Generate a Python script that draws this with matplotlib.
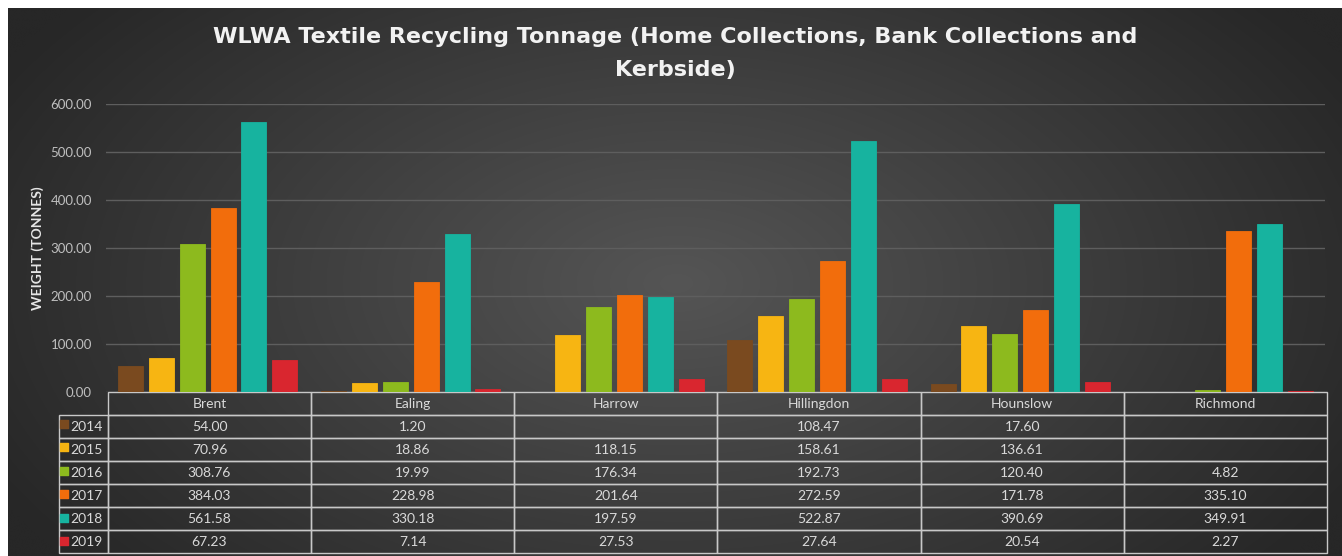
import numpy as np
import matplotlib
matplotlib.use("Agg")
import matplotlib.pyplot as plt

boroughs = ["Brent", "Ealing", "Harrow", "Hillingdon", "Hounslow", "Richmond"]
years = ["2014", "2015", "2016", "2017", "2018", "2019"]
v2014 = [54.00, 1.20, None, 108.47, 17.60, None]
v2015 = [70.96, 18.86, 118.15, 158.61, 136.61, None]
v2016 = [308.76, 19.99, 176.34, 192.73, 120.40, 4.82]
v2017 = [384.03, 228.98, 201.64, 272.59, 171.78, 335.10]
v2018 = [561.58, 330.18, 197.59, 522.87, 390.69, 349.91]
v2019 = [67.23, 7.14, 27.53, 27.64, 20.54, 2.27]
series = [v2014, v2015, v2016, v2017, v2018, v2019]
colors = ["#7a4a1f", "#f7b512", "#8dba1e", "#f26d0c", "#17b39f", "#d9262f"]
yticks = [0, 100, 200, 300, 400, 500, 600]

plt.rcParams['font.family'] = ['Lato', 'DejaVu Sans']

W, H = 1342, 556
fig = plt.figure(figsize=(W / 100, H / 100), dpi=100)
fig.patch.set_facecolor("white")

# background with radial gradient
bg = fig.add_axes([8 / W, 0, 1 - 8 / W, 1 - 8 / H])
bg.set_axis_off()
yy, xx = np.mgrid[0:200, 0:400]
cx, cy = 200, 100
r = np.sqrt(((xx - cx) / 230.0) ** 2 + ((yy - cy) / 160.0) ** 2)
r = np.clip(r, 0, 1)
c0 = np.array([0x55, 0x55, 0x55]) / 255
c1 = np.array([0x27, 0x27, 0x27]) / 255
img = c0[None, None, :] * (1 - r[..., None]) + c1[None, None, :] * r[..., None]
bg.imshow(img, aspect="auto", extent=[0, 1, 0, 1], interpolation="bicubic")
bg.set_xlim(0, 1)
bg.set_ylim(0, 1)

x0, x1 = 106, 1325
ytop, ybot = 104, 392
ax = fig.add_axes([x0 / W, (H - ybot) / H, (x1 - x0) / W, (ybot - ytop) / H])
ax.set_facecolor("none")
ax.set_xlim(-0.5, len(boroughs) - 0.5)
ax.set_ylim(0, 600)

n = len(series)
step = 0.152
bw = 0.123
xs = np.arange(len(boroughs))
for i, (vals, col) in enumerate(zip(series, colors)):
    hv = [v if v is not None else 0 for v in vals]
    ax.bar(xs + (i - (n - 1) / 2) * step, hv, width=bw, color=col,
           edgecolor=col, linewidth=0.6, zorder=3)

ax.set_yticks(yticks)
ax.set_yticklabels([f"{t:.2f}" for t in yticks], color="#bfbfbf", fontsize=9.5)
ax.tick_params(axis="y", length=0, pad=10)
ax.set_xticks([])
ax.grid(axis="y", color="#5e5e5e", linewidth=1.0, zorder=0)
for s in ax.spines.values():
    s.set_visible(False)
ax.set_ylabel("WEIGHT (TONNES)", color="#e6e6e6", fontsize=10,
              fontweight="bold", labelpad=5)

fig.text(675 / W, 1 - 53.5 / H,
         "WLWA Textile Recycling Tonnage (Home Collections, Bank Collections and\nKerbside)",
         ha="center", va="center", color="#f2f2f2", fontsize=16,
         fontweight="bold", linespacing=1.8, family=["DejaVu Sans"])

# data table
cell_text = [["" if v is None else f"{v:.2f}" for v in vals] for vals in series]
lab_w = (106 - 57)
col_w = (x1 - x0) / len(boroughs)
tot_w = lab_w + col_w * len(boroughs)
tbl = ax.table(cellText=cell_text, rowLabels=years, colLabels=boroughs,
               cellLoc="center", rowLoc="right", colLoc="center",
               colWidths=[col_w / tot_w] * len(boroughs),
               bbox=[0, -(553 - ybot) / (ybot - ytop),
                     1, (553 - ybot) / (ybot - ytop)])
tbl._autoColumns = []
tbl.auto_set_font_size(False)
tbl.set_fontsize(10)
for (r_, c_), cell in tbl.get_celld().items():
    cell.set_facecolor("none")
    cell.set_edgecolor("#c8c8c8")
    cell.set_linewidth(1.0)
    cell.get_text().set_color("#d9d9d9")
    if c_ == -1:
        cell.set_width(lab_w / tot_w)

# legend keys in row labels
for i, col in enumerate(colors):
    yc = 412 + 23.5 * i + 11.5
    ax.scatter([(64 - x0) / (x1 - x0)], [(ybot - yc) / (ybot - ytop)],
               marker="s", s=28, color=col, transform=ax.transAxes,
               clip_on=False, zorder=5)

fig.savefig("out.png", dpi=100, facecolor=fig.get_facecolor())
